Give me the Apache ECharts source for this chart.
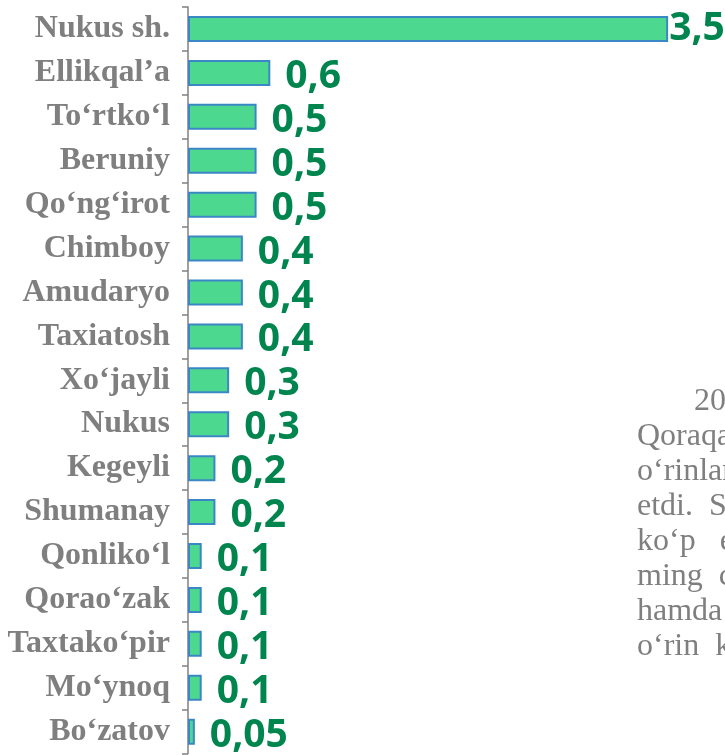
<!DOCTYPE html>
<html>
<head>
<meta charset="utf-8">
<script src="https://cdn.jsdelivr.net/npm/echarts@6/dist/echarts.min.js"></script>
<style>
  html, body { margin: 0; padding: 0; background: #fff; }
  #chart { width: 725px; height: 755px; }
</style>
</head>
<body>
<div id="chart"></div>
<script>
// districts, top to bottom
var categories = [
  'Nukus sh.', 'Ellikqal’a', 'To‘rtko‘l', 'Beruniy', 'Qo‘ng‘irot',
  'Chimboy', 'Amudaryo', 'Taxiatosh', 'Xo‘jayli', 'Nukus',
  'Kegeyli', 'Shumanay', 'Qonliko‘l', 'Qorao‘zak', 'Taxtako‘pir',
  'Mo‘ynoq', 'Bo‘zatov'
];
var values = [3.5, 0.6, 0.5, 0.5, 0.5, 0.4, 0.4, 0.4, 0.3, 0.3, 0.2, 0.2, 0.1, 0.1, 0.1, 0.1, 0.05];

// paragraph of the page behind the chart (cut off at the right edge)
var textLines = ['20', 'Qoraqa', 'o‘rinlar', 'etdi.  S', 'ko‘p   e', 'ming  c', 'hamda', 'o‘rin  k'];

var chart = echarts.init(document.getElementById('chart'));

var barData = values.map(function (v, i) {
  if (i === 0) {
    return { value: v, label: { distance: 1, offset: [0, 0] } };
  }
  return v;
});

var graphics = textLines.map(function (t, i) {
  return {
    type: 'text',
    left: i === 0 ? 694 : 637,
    top: 403 + i * 34.9 - 17,
    silent: true,
    style: {
      text: t,
      font: '32px "Liberation Serif"',
      fill: '#7f7f7f'
    }
  };
});

var option = {
  animation: false,
  grid: { left: 188, right: 2, top: 7, bottom: 1.4, containLabel: false },
  xAxis: { type: 'value', min: 0, max: 3.9, show: false },
  yAxis: {
    type: 'category',
    inverse: true,
    data: categories,
    axisLine: { show: true, lineStyle: { color: '#808080', width: 1.5 } },
    axisTick: { show: true, length: 6, lineStyle: { color: '#808080', width: 1.5 } },
    axisLabel: {
      margin: 18,
      color: '#7f7f7f',
      fontFamily: 'Liberation Serif',
      fontWeight: 'bold',
      fontSize: 32
    },
    splitLine: { show: false }
  },
  graphic: graphics,
  series: [{
    type: 'bar',
    data: barData,
    barWidth: 26,
    itemStyle: { color: '#4cd98f', borderColor: '#3b87c6', borderWidth: 2 },
    label: {
      show: true,
      position: 'right',
      distance: 15,
      offset: [0, 4],
      color: '#00854f',
      fontFamily: 'Open Sans',
      fontWeight: 'bold',
      fontSize: 39,
      formatter: function (p) { return String(p.value).replace('.', ','); }
    }
  }]
};

chart.setOption(option);
</script>
</body>
</html>
